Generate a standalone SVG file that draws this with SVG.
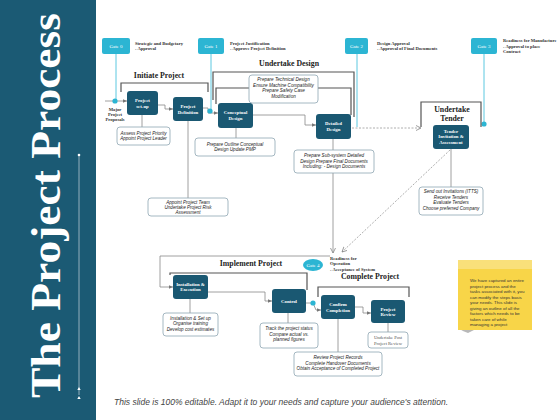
<svg xmlns="http://www.w3.org/2000/svg" width="560" height="420" viewBox="0 0 560 420">
<defs>
<marker id="ah" markerWidth="5" markerHeight="5" refX="4.5" refY="2.5" orient="auto" markerUnits="userSpaceOnUse">
<path d="M0,0.5 L4.5,2.5 L0,4.5 z" fill="#777"/>
</marker>
<marker id="ahd" markerWidth="6" markerHeight="6" refX="5" refY="3" orient="auto" markerUnits="userSpaceOnUse">
<path d="M0,0.5 L5,3 L0,5.5" fill="none" stroke="#888" stroke-width="0.8"/>
</marker>
</defs>
<style>
.box{fill:#1a5872}
.bt{font-family:"Liberation Serif",serif;font-weight:bold;font-size:4.8px;fill:#fff;text-anchor:middle}
.gate{fill:#2cb5d3}
.gt{font-family:"Liberation Serif",serif;font-size:5px;fill:#fff;text-anchor:middle}
.gd{font-family:"Liberation Serif",serif;font-weight:bold;font-size:4.6px;fill:#333}
.tb{fill:#fff;stroke:#8ea6b3;stroke-width:0.8}
.tt{font-family:"Liberation Sans",sans-serif;font-style:italic;font-size:4.6px;fill:#222;text-anchor:middle}
.sec{font-family:"Liberation Serif",serif;font-weight:bold;font-size:7.8px;fill:#222;text-anchor:middle}
.br{fill:none;stroke:#555;stroke-width:1.2}
.gl{fill:none;stroke:#5cc8e0;stroke-width:1}
.cn{fill:none;stroke:#888;stroke-width:0.8}
.dt{fill:none;stroke:#999;stroke-width:0.8;stroke-dasharray:2,1.5}
</style>
<rect x="0" y="0" width="560" height="420" fill="#fff"/>
<g id="sidebar">
<rect x="0" y="0" width="96" height="420" fill="#1b5a74"/>
<text transform="translate(60,398) rotate(-90)" font-family="Liberation Serif,serif" font-weight="bold" font-size="42" fill="#fff" textLength="385" lengthAdjust="spacingAndGlyphs">The Project Process</text>
<line x1="79" y1="155" x2="79" y2="395" stroke="#c8d6de" stroke-width="0.7"/>
<circle cx="79" cy="155" r="1.3" fill="#fff"/>
<path d="M77.3,390 L79,387 L80.7,390 z M77.3,399 L79,396 L80.7,399 z" fill="#fff"/>
</g>
<g id="connectors">
<path class="gl" d="M116,54 V101"/>
<path class="gl" d="M211,54 V111"/>
<path class="gl" d="M357,54 V127"/>
<path class="gl" d="M484,54 V124"/>
<path class="cn" d="M105,101 H127" marker-end="url(#ah)"/>
<path class="cn" d="M158,105 H165 V109 H173" marker-end="url(#ah)"/>
<path class="cn" d="M203,108 H208 V113 H218" marker-end="url(#ah)"/>
<path class="cn" d="M253,115 H305 V125 H316" marker-end="url(#ah)"/>
<path class="dt" d="M352,128 H421" marker-end="url(#ahd)"/>
<path class="dt" d="M450,150 L342,252" marker-end="url(#ahd)"/>
<path class="cn" d="M142,115 V127"/>
<path class="cn" d="M188,121 V198"/>
<path class="cn" d="M236,128 V138"/>
<path class="cn" d="M333,139 V150"/>
<path class="cn" d="M333,173 V253" marker-end="url(#ahd)"/>
<path class="cn" d="M451,149 V187"/>
<path class="cn" d="M190,299 V313"/>
<path class="cn" d="M288,313 V323"/>
<path class="cn" d="M338,319 V352"/>
<path class="cn" d="M388,323 V332"/>
<path class="cn" d="M208,292 H265 V301 H272" marker-end="url(#ah)"/>
<path class="cn" d="M306,303 H313 L316,310 H321" marker-end="url(#ah)"/>
<path class="cn" d="M355,307 H363 V313 H371" marker-end="url(#ah)"/>
<path class="cn" d="M330,256 H160 V287 H173" marker-end="url(#ah)"/>
<circle cx="115" cy="101" r="2.6" fill="#2cb5d3"/>
<circle cx="210" cy="111" r="2.6" fill="#2cb5d3"/>
<circle cx="484" cy="124" r="2.6" fill="#2cb5d3"/>
<circle cx="313" cy="303" r="2.6" fill="#2cb5d3"/>
</g>
<g id="brackets">
<path class="br" d="M121,92 V83 H208 V92"/>
<path class="br" d="M213,100 V72 H354 V117"/>
<path class="br" d="M216,104 V88 H351 V115"/>
<path class="br" d="M421,127 V102 H481 V127"/>
<path class="br" d="M170,275 V273 H307 V290"/>
<path class="br" d="M318,297 V287 H409 V297"/>
</g>
<g id="titles">
<text class="sec" x="159" y="78">Initiate  Project</text>
<text class="sec" x="289" y="66">Undertake  Design</text>
<text class="sec" x="452" y="112">Undertake</text>
<text class="sec" x="452" y="121">Tender</text>
<text class="sec" x="251" y="266">Implement  Project</text>
<text class="sec" x="370" y="279">Complete  Project</text>
</g>
<g id="gate0">
<rect class="gate" x="102" y="38" width="28" height="16" rx="2"/>
<text class="gt" x="116" y="47.5">Gate 0</text>
<text class="gd" x="135" y="45">Strategic and Budgetary</text>
<text class="gd" x="135" y="50">- Approval</text>
</g>
<g id="gate1">
<rect class="gate" x="198" y="38" width="26" height="16" rx="2"/>
<text class="gt" x="211" y="47.5">Gate 1</text>
<text class="gd" x="230" y="45">Project Justification</text>
<text class="gd" x="230" y="50">- Approve Project Definition</text>
</g>
<g id="gate2">
<rect class="gate" x="345" y="38" width="23" height="16" rx="2"/>
<text class="gt" x="356.5" y="47.5">Gate 2</text>
<text class="gd" x="377" y="45">Design Approval</text>
<text class="gd" x="377" y="50">- Approval of Final Documents</text>
</g>
<g id="gate3">
<rect class="gate" x="471" y="38" width="26" height="16" rx="2"/>
<text class="gt" x="484" y="47.5">Gate 3</text>
<text class="gd" x="503" y="42">Readiness for Manufacture</text>
<text class="gd" x="503" y="47.5">- Approval to place</text>
<text class="gd" x="503" y="53">Contract</text>
</g>
<g id="gate4">
<ellipse class="gate" cx="313" cy="265" rx="10" ry="6"/>
<text class="gt" x="313" y="266.5" font-size="4.4">Gate 4</text>
<text class="gd" x="330" y="260">Readiness for</text>
<text class="gd" x="330" y="265">Operation</text>
<text class="gd" x="330" y="271">- Acceptance of System</text>
</g>
<g id="proposals">
<text class="gd" x="115" y="111" text-anchor="middle">Major</text>
<text class="gd" x="115" y="116" text-anchor="middle">Project</text>
<text class="gd" x="115" y="121" text-anchor="middle">Proposals</text>
</g>
<g id="project-setup">
<rect class="box" x="127" y="91" width="31" height="24" rx="3"/>
<text class="bt" x="142.5" y="102">Project</text>
<text class="bt" x="142.5" y="107.5">set-up</text>
</g>
<g id="project-definition">
<rect class="box" x="173" y="97" width="30" height="24" rx="3"/>
<text class="bt" x="188" y="108">Project</text>
<text class="bt" x="188" y="113.5">Definition</text>
</g>
<g id="conceptual-design">
<rect class="box" x="218" y="103" width="35" height="25" rx="3"/>
<text class="bt" x="235.5" y="114">Conceptual</text>
<text class="bt" x="235.5" y="119.5">Design</text>
</g>
<g id="detailed-design">
<rect class="box" x="316" y="114" width="35" height="25" rx="3"/>
<text class="bt" x="333.5" y="125">Detailed</text>
<text class="bt" x="333.5" y="130.5">Design</text>
</g>
<g id="tender">
<rect class="box" x="433" y="125" width="36" height="24" rx="3"/>
<text class="bt" x="451" y="132.5">Tender</text>
<text class="bt" x="451" y="138">Invitation &amp;</text>
<text class="bt" x="451" y="143.5">Assessment</text>
</g>
<g id="installation">
<rect class="box" x="173" y="275" width="35" height="24" rx="3"/>
<text class="bt" x="190.5" y="285.5">Installation &amp;</text>
<text class="bt" x="190.5" y="291">Execution</text>
</g>
<g id="control">
<rect class="box" x="272" y="289" width="34" height="24" rx="3"/>
<text class="bt" x="289" y="302.5">Control</text>
</g>
<g id="confirm">
<rect class="box" x="321" y="295" width="34" height="24" rx="3"/>
<text class="bt" x="338" y="306">Confirm</text>
<text class="bt" x="338" y="311.5">Completion</text>
</g>
<g id="review">
<rect class="box" x="371" y="300" width="34" height="23" rx="3"/>
<text class="bt" x="388" y="310.5">Project</text>
<text class="bt" x="388" y="316">Review</text>
</g>
<g id="t-setup">
<rect class="tb" x="117" y="127" width="53" height="18" rx="3"/>
<text class="tt" x="143.5" y="134.5">Assess Project Priority</text>
<text class="tt" x="143.5" y="140">Appoint Project Leader</text>
</g>
<g id="t-definition">
<rect class="tb" x="148" y="198" width="80" height="18" rx="3"/>
<text class="tt" x="188" y="203.5">Appoint Project Team</text>
<text class="tt" x="188" y="208.5">Undertake Project Risk</text>
<text class="tt" x="188" y="213.5">Assessment</text>
</g>
<g id="t-conceptual">
<rect class="tb" x="195" y="138" width="80" height="18" rx="3"/>
<text class="tt" x="235" y="145.5">Prepare Outline Conceptual</text>
<text class="tt" x="235" y="151">Design Update PMP</text>
</g>
<g id="t-design">
<rect class="tb" x="249" y="75" width="69" height="28" rx="3"/>
<text class="tt" x="283.5" y="81">Prepare Technical Design</text>
<text class="tt" x="283.5" y="86.5">Ensure Machine Compatibility</text>
<text class="tt" x="283.5" y="92">Prepare Safety Case</text>
<text class="tt" x="283.5" y="97.5">Modification</text>
</g>
<g id="t-detailed">
<rect class="tb" x="294" y="150" width="80" height="23" rx="3"/>
<text class="tt" x="334" y="157">Prepare Sub-system Detailed</text>
<text class="tt" x="334" y="162.5">Design Prepare Final Documents</text>
<text class="tt" x="334" y="168">Including: - Design Documents</text>
</g>
<g id="t-tender">
<rect class="tb" x="419" y="187" width="64" height="28" rx="3"/>
<text class="tt" x="451" y="193">Send out Invitations (ITTS)</text>
<text class="tt" x="451" y="198.5">Receive Tenders</text>
<text class="tt" x="451" y="204">Evaluate Tenders</text>
<text class="tt" x="451" y="209.5">Choose preferred Company</text>
</g>
<g id="t-installation">
<rect class="tb" x="163" y="313" width="55" height="23" rx="3"/>
<text class="tt" x="190.5" y="319.5">Installation &amp; Set up</text>
<text class="tt" x="190.5" y="325">Organise training</text>
<text class="tt" x="190.5" y="330.5">Develop cost estimates</text>
</g>
<g id="t-control">
<rect class="tb" x="260" y="323" width="58" height="25" rx="3"/>
<text class="tt" x="289" y="330">Track the project status</text>
<text class="tt" x="289" y="335.5">Compare actual vs.</text>
<text class="tt" x="289" y="341">planned figures</text>
</g>
<g id="t-confirm">
<rect class="tb" x="294" y="352" width="88" height="24" rx="3"/>
<text class="tt" x="338" y="359">Review Project Records</text>
<text class="tt" x="338" y="364.5">Complete Handover Documents</text>
<text class="tt" x="338" y="370">Obtain Acceptance of Completed Project</text>
</g>
<g id="t-review">
<rect class="tb" x="368" y="332" width="40" height="16" rx="3"/>
<text x="388" y="339" font-family="Liberation Serif,serif" font-size="4.6" fill="#555" text-anchor="middle">Undertake Post</text>
<text x="388" y="344.5" font-family="Liberation Serif,serif" font-size="4.6" fill="#555" text-anchor="middle">Project Review</text>
</g>
<g id="note">
<path d="M458,300 L458,328 Q462,331 468,333 L474,330 Z" fill="#9a9a9a" opacity="0.7"/>
<rect x="458" y="260" width="74" height="70" fill="#f8d548"/>
<rect x="458" y="260" width="74" height="9" fill="#f9e07a"/>
<g font-family="Liberation Sans,sans-serif" font-size="4.4" fill="#333">
<text x="470" y="282">We have captured an entire</text>
<text x="470" y="287.5">project process and the</text>
<text x="470" y="293">tasks associated with it, you</text>
<text x="470" y="298.5">can modify the steps basis</text>
<text x="470" y="304">your needs. This slide is</text>
<text x="470" y="309.5">giving an outline of all the</text>
<text x="470" y="315">factors which needs to be</text>
<text x="470" y="320.5">taken care of while</text>
<text x="470" y="326">managing a project</text>
</g>
</g>
<text x="114" y="405" font-family="Liberation Sans,sans-serif" font-style="italic" font-size="8.2" fill="#444" textLength="334" lengthAdjust="spacingAndGlyphs">This slide is 100% editable. Adapt it to your needs and capture your audience's attention.</text>
</svg>
